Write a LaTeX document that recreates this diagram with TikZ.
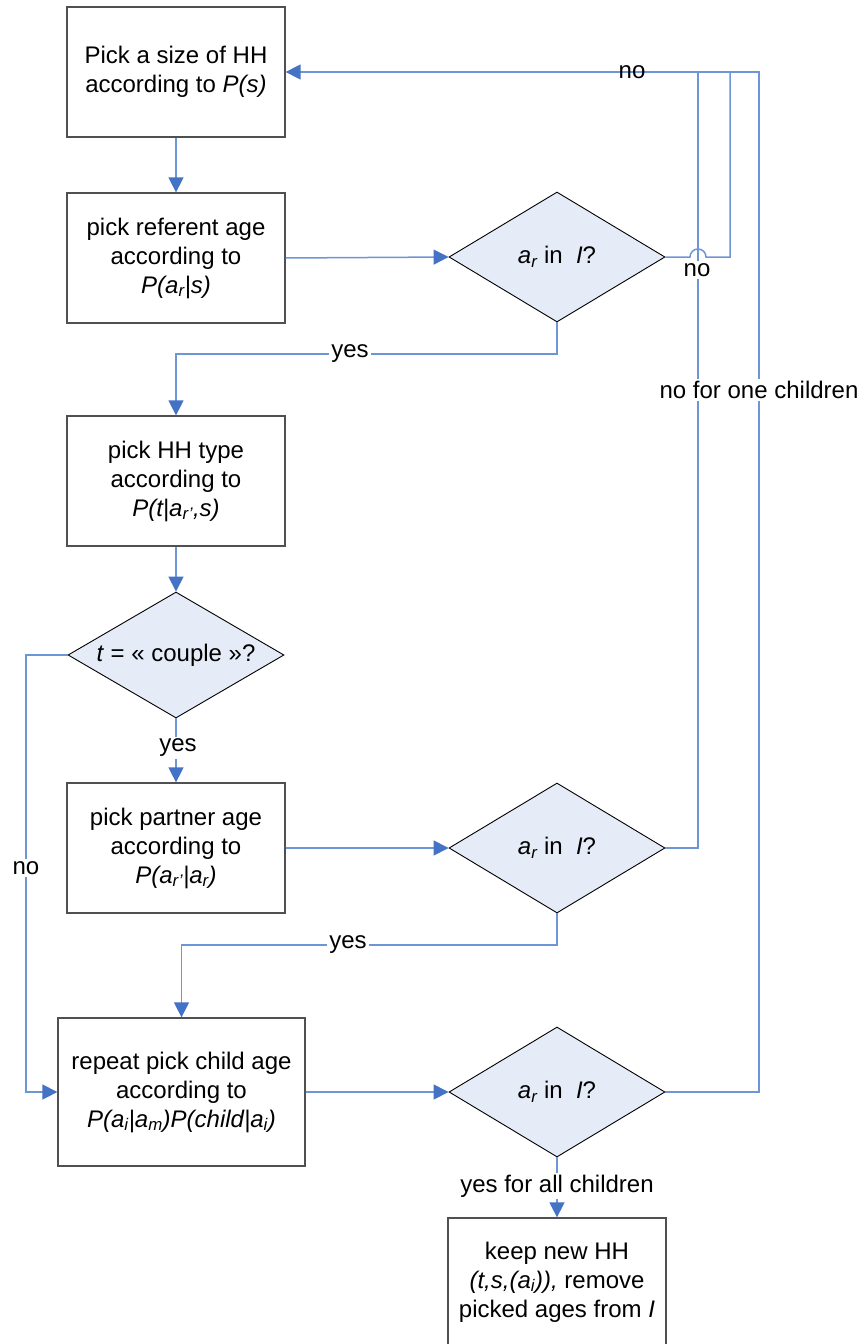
\documentclass[tikz,border=0pt]{standalone}
\usepackage{fontspec}
\setmainfont{Liberation Sans}
\usetikzlibrary{arrows.meta,shapes.geometric}
\definecolor{lineblue}{RGB}{110,150,215}
\definecolor{tipblue}{RGB}{68,114,196}
\definecolor{dfill}{RGB}{230,236,247}
\definecolor{boxedge}{RGB}{80,80,80}
\begin{document}
\begin{tikzpicture}[x=1pt,y=-1pt,
  every node/.style={font=\fontsize{24}{29}\selectfont},
  stepbox/.style={draw=boxedge,line width=1.3pt,fill=white,align=center,minimum width=218pt,minimum height=130pt,inner sep=0pt},
  decide/.style={draw=black,line width=0.9pt,fill=dfill,diamond,aspect=1.66,minimum width=216pt,minimum height=130pt,inner sep=0pt,align=center},
  conn/.style={draw=lineblue,line width=1.5pt},
  arr/.style={conn,-{Triangle[length=15pt,width=15pt,color=tipblue]}},
  lbl/.style={fill=white,inner sep=2pt}
]
\useasboundingbox (0,0) rectangle (862,1344);

% boxes
\node[stepbox] (b1) at (176,72) {Pick a size of HH\\according to \textit{P(s)}};
\node[stepbox] (b2) at (176,258) {pick referent age\\according to\\\textit{P(a\textsubscript{r}|s)}};
\node[stepbox] (b3) at (176,481) {pick HH type\\according to\\\textit{P(t|a\textsubscript{r'},s)}};
\node[stepbox] (b4) at (176,848) {pick partner age\\according to\\\textit{P(a\textsubscript{r'}|a\textsubscript{r})}};
\node[stepbox,minimum width=247pt,minimum height=148pt] (b5) at (181.5,1092) {repeat pick child age\\according to\\\textit{P(a\textsubscript{i}|a\textsubscript{m})P(child|a\textsubscript{i})}};
\node[stepbox,minimum height=128pt] (b6) at (557,1282) {keep new HH\\\textit{(t,s,(a\textsubscript{i})),} remove\\picked ages from \textit{I}};

% decisions
\node[decide] (d1) at (557,257) {\textit{a\textsubscript{r}} in \ \textit{I}?};
\node[decide,minimum height=126pt,aspect=1.71] (dc) at (176,655) {\textit{t} = « couple »?};
\node[decide] (d2) at (557,848) {\textit{a\textsubscript{r}} in \ \textit{I}?};
\node[decide] (d3) at (557,1092) {\textit{a\textsubscript{r}} in \ \textit{I}?};

% coordinates
\coordinate (top) at (759,72);
\coordinate (r3) at (759,1092);
\coordinate (r2) at (698,848);
\coordinate (t2) at (698,72);
\coordinate (j1) at (690,257);
\coordinate (r1) at (730,257);
\coordinate (t1) at (730,72);
\coordinate (y1a) at (557,354);
\coordinate (y1b) at (176,354);
\coordinate (y2a) at (557,945);
\coordinate (y2b) at (181.5,945);
\coordinate (n1) at (26,655);
\coordinate (n2) at (26,1092);

% connectors
\draw[arr] (b1.south) -- (b2.north);
\draw[arr] (b2.east) -- (d1.west);
\draw[conn] (d1.east) -- (j1) arc[start angle=180,end angle=0,radius=8pt] -- (r1) -- (t1);
\draw[conn] (d2.east) -- (r2) -- (t2);
\draw[arr] (d3.east) -- (r3) -- (top) -- (b1.east);
\draw[arr] (d1.south) -- (y1a) -- (y1b) -- (b3.north);
\draw[arr] (b3.south) -- (dc.north);
\draw[arr] (dc.south) -- (b4.north);
\draw[arr] (b4.east) -- (d2.west);
\draw[arr] (d2.south) -- (y2a) -- (y2b) -- (b5.north);
\draw[arr] (dc.west) -- (n1) -- (n2) -- (b5.west);
\draw[arr] (b5.east) -- (d3.west);
\draw[arr] (d3.south) -- (b6.north);

% labels
\node (lno1) at (632,72) {no};
\node[lbl] (lno2) at (697,270) {no};
\node[lbl] (lnoc) at (759,390) {no for one children};
\node[lbl] (lyes1) at (350,354) {yes};
\node[lbl] (lyes2) at (178,748) {yes};
\node[lbl] (lyes3) at (348,945) {yes};
\node[lbl] (lno3) at (26,868) {no};
\node[lbl] (lyall) at (557,1186) {yes for all children};
\end{tikzpicture}
\end{document}
